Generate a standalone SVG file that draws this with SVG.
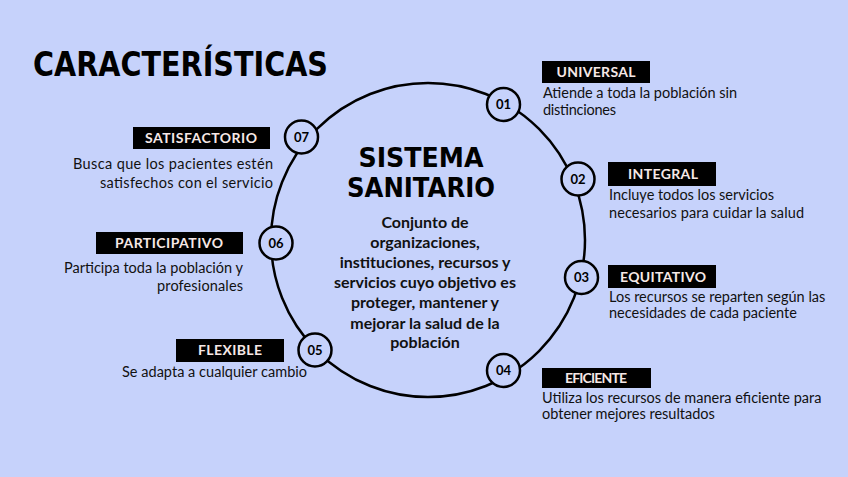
<svg xmlns="http://www.w3.org/2000/svg" width="848" height="477" viewBox="0 0 848 477">
<style>
.title{font-family:"DejaVu Sans","Liberation Sans",sans-serif;font-weight:700;fill:#000}
.body{font-family:Lato,"Open Sans",sans-serif;font-weight:700;font-size:16px;fill:#111;text-anchor:middle}
.lbl{fill:#000}
.lt{font-family:Lato,"Open Sans",sans-serif;font-weight:700;font-size:14px;fill:#f6e8e6;text-anchor:middle}
.desc{font-family:Lato,"Open Sans",sans-serif;font-size:14.5px;fill:#111}
.num{fill:#c6d2fb;stroke:#000;stroke-width:2.5}
.nt{font-family:Lato,"Open Sans",sans-serif;font-weight:700;font-size:13px;fill:#000;text-anchor:middle}
</style>
<rect width="848" height="477" fill="#c6d2fb"/>
<text class="title" x="33" y="76" font-size="33" textLength="295" lengthAdjust="spacingAndGlyphs">CARACTERÍSTICAS</text>
<g id="connectors">
<circle cx="428" cy="240" r="157" fill="none" stroke="#000" stroke-width="2.5"/>
</g>
<g id="center">
<text class="title" x="421" y="167" font-size="26" text-anchor="middle" textLength="125" lengthAdjust="spacingAndGlyphs">SISTEMA</text>
<text class="title" x="421" y="197" font-size="26" text-anchor="middle" textLength="148" lengthAdjust="spacingAndGlyphs">SANITARIO</text>
<text class="body" x="425" y="228">Conjunto de</text>
<text class="body" x="425" y="248">organizaciones,</text>
<text class="body" x="425" y="268">instituciones, recursos y</text>
<text class="body" x="425" y="288">servicios cuyo objetivo es</text>
<text class="body" x="425" y="308">proteger, mantener y</text>
<text class="body" x="425" y="329">mejorar la salud de la</text>
<text class="body" x="425" y="348">población</text>
</g>
<g id="n01">
<circle class="num" cx="503.5" cy="104.5" r="16.5"/>
<text class="nt" x="503.5" y="109">01</text>
<rect class="lbl" x="542" y="61" width="108" height="22"/>
<text class="lt" x="596" y="77" textLength="79">UNIVERSAL</text>
<text class="desc" x="543" y="98" textLength="194">Atiende a toda la población sin</text>
<text class="desc" x="543" y="115" textLength="73">distinciones</text>
</g>
<g id="n02">
<circle class="num" cx="578" cy="179" r="16.5"/>
<text class="nt" x="578" y="183.5">02</text>
<rect class="lbl" x="608" y="162" width="108" height="24"/>
<text class="lt" x="663" y="179" textLength="70">INTEGRAL</text>
<text class="desc" x="609" y="200" textLength="165">Incluye todos los servicios</text>
<text class="desc" x="609" y="218" textLength="195">necesarios para cuidar la salud</text>
</g>
<g id="n03">
<circle class="num" cx="581.5" cy="277.5" r="16.5"/>
<text class="nt" x="581.5" y="282">03</text>
<rect class="lbl" x="608" y="265" width="108" height="23"/>
<text class="lt" x="663" y="282" textLength="86">EQUITATIVO</text>
<text class="desc" x="609" y="302" font-size="12">Los recursos se reparten según las</text>
<text class="desc" x="609" y="318" font-size="12">necesidades de cada paciente</text>
</g>
<g id="n04">
<circle class="num" cx="503.5" cy="370.5" r="16.5"/>
<text class="nt" x="503.5" y="375">04</text>
<rect class="lbl" x="542" y="368" width="109" height="20"/>
<text class="lt" x="596" y="383" font-size="12" textLength="62">EFICIENTE</text>
<text class="desc" x="542" y="403" font-size="11.5">Utiliza los recursos de manera eficiente para</text>
<text class="desc" x="542" y="419" font-size="11.5">obtener mejores resultados</text>
</g>
<g id="n05">
<circle class="num" cx="315" cy="350" r="16.5"/>
<text class="nt" x="315" y="354.5">05</text>
<rect class="lbl" x="176" y="339" width="108" height="23"/>
<text class="lt" x="230" y="355" textLength="64">FLEXIBLE</text>
<text class="desc" x="122" y="377" textLength="185">Se adapta a cualquier cambio</text>
</g>
<g id="n06">
<circle class="num" cx="276" cy="243" r="16.5"/>
<text class="nt" x="276" y="247.5">06</text>
<rect class="lbl" x="96" y="232" width="147" height="22"/>
<text class="lt" x="169" y="248" textLength="108">PARTICIPATIVO</text>
<text class="desc" x="64" y="273" textLength="179">Participa toda la población y</text>
<text class="desc" x="157" y="291" textLength="86">profesionales</text>
</g>
<g id="n07">
<circle class="num" cx="301.5" cy="137" r="16.5"/>
<text class="nt" x="301.5" y="141.5">07</text>
<rect class="lbl" x="133" y="127" width="137" height="22"/>
<text class="lt" x="201" y="143" textLength="112">SATISFACTORIO</text>
<text class="desc" x="73" y="169" textLength="200">Busca que los pacientes estén</text>
<text class="desc" x="100" y="188" textLength="173">satisfechos con el servicio</text>
</g>
</svg>
